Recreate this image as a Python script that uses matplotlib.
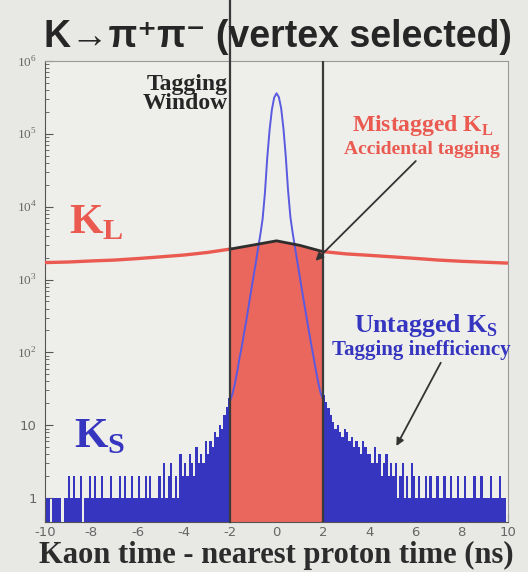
"""K -> pi+ pi- kaon/proton timing plot with the tagging window."""

import numpy as np
import matplotlib

matplotlib.use("Agg")
import matplotlib.pyplot as plt

plt.rcParams["mathtext.fontset"] = "custom"
plt.rcParams["mathtext.rm"] = "Liberation Serif"
plt.rcParams["mathtext.bf"] = "Liberation Serif:bold"
plt.rcParams["axes.unicode_minus"] = False

# K_L spectrum, one point per ns from -10 to 10
kl_time = [-10, -9, -8, -7, -6, -5, -4, -3, -2, -1, 0, 1, 2, 3, 4, 5, 6, 7, 8, 9, 10]
kl_counts = [1710, 1740, 1800, 1850, 1940, 2050, 2170, 2350, 2620, 2980, 3400,
             2950, 2420, 2250, 2150, 2050, 1950, 1850, 1780, 1730, 1680]

# K_S peak inside the window, 0.1 ns steps from -2 to 2
ks_core_time = [round(-2.0 + 0.1 * i, 1) for i in range(41)]
ks_core_counts = [22, 27, 37, 54, 83, 120, 185, 280, 440, 690, 1080,
                  1650, 2650, 4100, 6800, 15500, 47000, 112000, 215000, 315000, 360000,
                  320000, 225000, 118000, 49000, 16500, 7200, 4300, 2750, 1750, 1120,
                  710, 460, 300, 195, 128, 86, 57, 39, 28, 23]

# K_S counts outside the window, 0.1 ns bins
ks_left_edges = np.round(np.arange(-10.0, -1.95, 0.1), 1)
ks_left_counts = [1, 1, 0, 1, 1, 1, 1, 0, 1, 1,
                  2, 1, 2, 1, 1, 2, 0, 1, 1, 2,
                  1, 2, 1, 1, 2, 1, 1, 1, 2, 1,
                  1, 1, 2, 1, 2, 1, 1, 2, 1, 1,
                  2, 1, 1, 2, 1, 2, 1, 1, 1, 2,
                  1, 3, 1, 2, 3, 1, 2, 1, 4, 2,
                  3, 2, 4, 3, 2, 5, 3, 4, 3, 6,
                  4, 6, 5, 8, 7, 10, 9, 14, 18, 24]
ks_right_edges = np.round(np.arange(2.0, 10.05, 0.1), 1)
ks_right_counts = [26, 21, 17, 14, 11, 9, 10, 8, 7, 9,
                   8, 6, 7, 5, 6, 5, 4, 6, 5, 4,
                   4, 3, 5, 3, 4, 2, 3, 4, 2, 3,
                   2, 3, 1, 2, 3, 1, 2, 1, 3, 2,
                   1, 2, 1, 1, 2, 1, 2, 1, 1, 2,
                   1, 1, 2, 1, 1, 2, 1, 1, 2, 1,
                   1, 2, 1, 1, 1, 2, 1, 1, 2, 1,
                   1, 1, 2, 1, 1, 1, 2, 1, 1, 0]

window = (-2, 2)
y_tick_vals = [1, 10, 1e2, 1e3, 1e4, 1e5, 1e6]
y_tick_labels = ["1", "10", "$10^{2}$", "$10^{3}$", "$10^{4}$", "$10^{5}$", "$10^{6}$"]
x_tick_vals = [-10, -8, -6, -4, -2, 0, 2, 4, 6, 8, 10]

RED = "#ea5a50"
RED_FILL = "#e9675c"
BLUE = "#3535c0"
BLUE_LINE = "#5a5ae0"
SERIF = "Liberation Serif"

fig = plt.figure(figsize=(5.28, 5.72), dpi=100, facecolor="#e8e8e5")
ax = fig.add_axes([0.0852, 0.0874, 0.877, 0.806], facecolor="#eeeeeb")
ax.set_yscale("log")
ax.set_xlim(-10, 10)
ax.set_ylim(0.47, 1e6)

# K_S histogram outside the tagging window
floor = 1e-3
for edges, counts in [(ks_left_edges, ks_left_counts), (ks_right_edges, ks_right_counts)]:
    vals = np.array(counts, dtype=float)
    vals[vals <= 0] = floor
    ax.stairs(vals, edges, fill=True, baseline=floor, color=BLUE, lw=0, zorder=2)

# K_L: red line outside, filled inside the window
kl_t = np.array(kl_time)
kl_c = np.array(kl_counts, dtype=float)
inside = (kl_t >= window[0]) & (kl_t <= window[1])
ax.fill_between(kl_t[inside], floor, kl_c[inside], color=RED_FILL, lw=0, zorder=2.5)
left = kl_t <= window[0]
right = kl_t >= window[1]
ax.plot(kl_t[left], kl_c[left], color=RED, lw=2.4, zorder=3)
ax.plot(kl_t[right], kl_c[right], color=RED, lw=2.4, zorder=3)

# K_S peak over the fill
ax.plot(ks_core_time, ks_core_counts, color=BLUE_LINE, lw=1.4, zorder=4)
ax.plot(kl_t[inside], kl_c[inside], color="#2e2e2e", lw=2.0, zorder=4.5)

# tagging window edges
ax.axvline(window[0], ymin=0, ymax=1.135, color="#3a3a3a", lw=1.6, clip_on=False, zorder=5)
ax.axvline(window[1], color="#3a3a3a", lw=1.6, zorder=5)

# labels
ax.text(-2.1, 6.6e5, "Tagging\nWindow", ha="right", va="top", fontfamily=SERIF,
        fontweight="bold", fontsize=17, color="#262626", linespacing=0.85, zorder=6)
ax.text(-8.95, 4300, r"K$_\mathbf{L}$", ha="left", va="baseline", fontfamily=SERIF,
        fontweight="bold", fontsize=31, color=RED, zorder=6)
ax.text(-8.75, 5.0, r"K$_\mathbf{S}$", ha="left", va="baseline", fontfamily=SERIF,
        fontweight="bold", fontsize=31, color=BLUE, zorder=6)
ax.text(6.3, 1.3e5, r"Mistagged K$_\mathbf{L}$", ha="center", va="center", fontfamily=SERIF,
        fontweight="bold", fontsize=17, color=RED, zorder=6)
ax.text(6.3, 6.0e4, "Accidental tagging", ha="center", va="center", fontfamily=SERIF,
        fontweight="bold", fontsize=14, color=RED, zorder=6)
ax.text(6.45, 235, r"Untagged K$_\mathbf{S}$", ha="center", va="center", fontfamily=SERIF,
        fontweight="bold", fontsize=18.5, color=BLUE, zorder=6)
ax.text(6.25, 108, "Tagging inefficiency", ha="center", va="center", fontfamily=SERIF,
        fontweight="bold", fontsize=15, color=BLUE, zorder=6)

arrow = dict(arrowstyle="-|>", color="#333333", lw=1.3, mutation_scale=11)
ax.annotate("", xy=(1.6, 1700), xytext=(6.1, 4.5e4), arrowprops=arrow, zorder=6)
ax.annotate("", xy=(5.12, 4.8), xytext=(7.15, 78), arrowprops=arrow, zorder=6)

# axes styling
ax.set_yticks(y_tick_vals)
ax.set_yticklabels(y_tick_labels)
ax.set_xticks(x_tick_vals)
ax.set_xticklabels([str(v) for v in x_tick_vals])
ax.tick_params(axis="both", which="both", direction="in", colors="#555555",
               labelsize=9.5, labelcolor="#666666")
ax.tick_params(axis="y", which="major", length=6, pad=6)
ax.tick_params(axis="y", which="minor", length=3)
ax.tick_params(axis="x", which="major", length=6, pad=3)
for side in ["left", "bottom"]:
    ax.spines[side].set_color("#555555")
for side in ["top", "right"]:
    ax.spines[side].set_color("#9a9a9a")

ax.set_xlabel("Kaon time - nearest proton time (ns)", fontfamily=SERIF,
              fontweight="bold", fontsize=22, color="#2c2c2c", labelpad=1)
fig.text(0.527, 0.935, "K→π⁺π⁻ (vertex selected)", ha="center", va="center",
         fontfamily=["Liberation Sans", "DejaVu Sans"], fontweight="bold",
         fontsize=27, color="#262626")

fig.savefig("out.png", dpi=100, facecolor=fig.get_facecolor())
